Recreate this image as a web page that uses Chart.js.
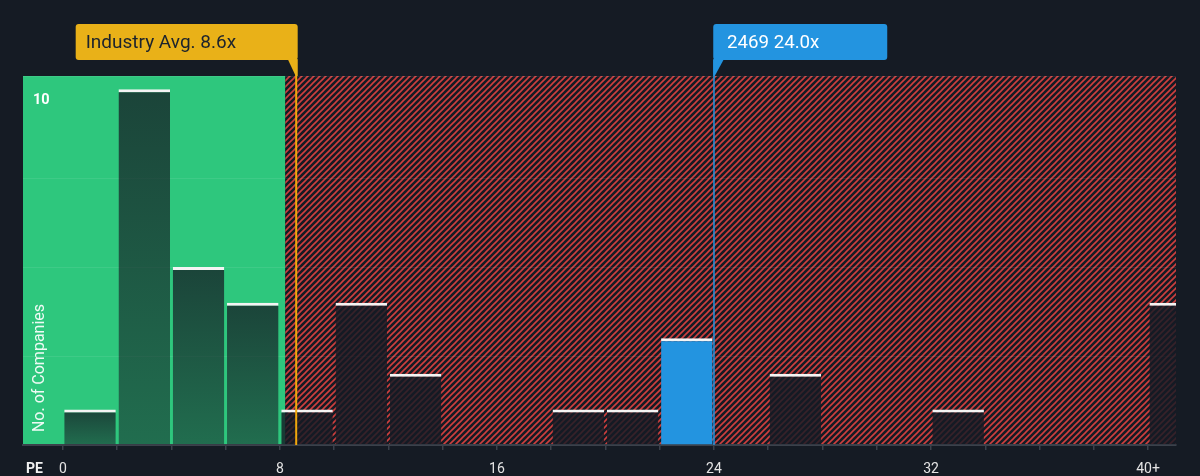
<!DOCTYPE html>
<html><head><meta charset="utf-8">
<script src="https://cdn.jsdelivr.net/npm/chart.js@4"></script>
<style>html,body{margin:0;padding:0;background:#151b24;overflow:hidden}</style>
</head><body>
<canvas id="c" width="1200" height="476"></canvas>
<script>
// ---- data ----
const binStarts = [0,2,4,6,8,10,12,14,16,18,20,22,24,26,28,30,32,34,36,38,40];
const counts    = [1,10,5,4,1,4,2,0,0,1,1,3,0,2,0,0,1,0,0,0,4];
const binWidth = 2;
const tickValues = [0,8,16,24,32,40];
const tickLabels = ['0','8','16','24','32','40+'];
const yLabelValues = [10];
const industryAvg = 8.6;
const companyPE = 24.0;
const companyName = '2469';
const fairLimit = 8.2;
const xMin = -1.47, xMax = 41.03, yMax = 10.37;

const BG = '#151b24';
const GREEN = '#2ec77d';
const RED = '#cf3f3e';
const BLUE = '#2394e0';
const GOLD = '#e9b118';

const points = binStarts.map((s,i)=>({x: s + binWidth/2, y: counts[i]}));

function makePattern(ctx){
  const s = 6;
  const pc = document.createElement('canvas');
  pc.width = s; pc.height = s;
  const p = pc.getContext('2d');
  p.fillStyle = BG; p.fillRect(0,0,s,s);
  p.strokeStyle = RED; p.lineWidth = 1.6;
  p.beginPath();
  p.moveTo(-1, s+1); p.lineTo(s+1, -1);
  p.moveTo(-1, 1); p.lineTo(1, -1);
  p.moveTo(s-1, s+1); p.lineTo(s+1, s-1);
  p.stroke();
  return ctx.createPattern(pc, 'repeat');
}

const bgPlugin = {
  id: 'bgRegions',
  beforeDraw(chart){
    const {ctx, chartArea: a, scales: {x}} = chart;
    ctx.save();
    ctx.fillStyle = BG;
    ctx.fillRect(0,0,chart.width,chart.height);
    const fx = x.getPixelForValue(fairLimit);
    ctx.fillStyle = GREEN;
    ctx.fillRect(a.left, a.top, fx - a.left, a.bottom - a.top);
    ctx.fillStyle = makePattern(ctx);
    ctx.fillRect(fx, a.top, a.right - fx, a.bottom - a.top);
    ctx.restore();
  }
};

function roundRect(ctx, x, y, w, h, r){
  ctx.beginPath();
  ctx.moveTo(x+r,y); ctx.lineTo(x+w-r,y); ctx.quadraticCurveTo(x+w,y,x+w,y+r);
  ctx.lineTo(x+w,y+h-r); ctx.quadraticCurveTo(x+w,y+h,x+w-r,y+h);
  ctx.lineTo(x+r,y+h); ctx.quadraticCurveTo(x,y+h,x,y+h-r);
  ctx.lineTo(x,y+r); ctx.quadraticCurveTo(x,y,x+r,y);
  ctx.closePath();
}

const annoPlugin = {
  id: 'anno',
  afterDatasetsDraw(chart){
    const {ctx, chartArea: a, scales: {x, y}} = chart;
    ctx.save();
    const boxTop = 24, boxBot = 60;
    // industry line
    const ix = x.getPixelForValue(industryAvg);
    ctx.fillStyle = GOLD;
    ctx.strokeStyle = '#f0a80c';
    ctx.lineWidth = 2;
    ctx.beginPath(); ctx.moveTo(ix, boxBot); ctx.lineTo(ix, a.bottom); ctx.stroke();
    ctx.font = '19px Roboto';
    const itxt = 'Industry Avg. ' + industryAvg.toFixed(1) + 'x';
    const ir = ix + 1.5;
    const iw = 222;
    roundRect(ctx, ir - iw, boxTop, iw, boxBot - boxTop, 3);
    ctx.fill();
    ctx.beginPath(); ctx.moveTo(ir - 10, boxBot - 1); ctx.lineTo(ir, boxBot - 1); ctx.lineTo(ir, a.top); ctx.lineTo(ix - 0.5, a.top); ctx.closePath(); ctx.fill();
    ctx.fillStyle = '#1c232d';
    ctx.textBaseline = 'middle';
    ctx.fillText(itxt, ir - iw + 10, (boxTop + boxBot)/2 + 1);

    // company line
    const cx = x.getPixelForValue(companyPE);
    ctx.strokeStyle = BLUE; ctx.fillStyle = BLUE; ctx.lineWidth = 1.5;
    ctx.beginPath(); ctx.moveTo(cx, boxBot); ctx.lineTo(cx, a.bottom); ctx.stroke();
    const ctxt = companyName + ' ' + companyPE.toFixed(1) + 'x';
    const cw = 174;
    roundRect(ctx, cx - 0.75, boxTop, cw, boxBot - boxTop, 3);
    ctx.fill();
    ctx.beginPath(); ctx.moveTo(cx - 0.75, boxBot - 1); ctx.lineTo(cx + 10, boxBot - 1); ctx.lineTo(cx + 0.75, a.top); ctx.lineTo(cx - 0.75, a.top); ctx.closePath(); ctx.fill();
    ctx.fillStyle = '#ffffff';
    ctx.font = '18.7px Roboto';
    ctx.fillText(ctxt, cx + 13, (boxTop + boxBot)/2 + 1);

    // y tick label(s)
    ctx.font = 'bold 14.5px Roboto';
    ctx.fillStyle = '#ffffff';
    ctx.textAlign = 'left';
    yLabelValues.forEach(v => ctx.fillText(String(v), a.left + 10, y.getPixelForValue(v) + 11));

    // axis titles
    ctx.font = '16px Roboto';
    ctx.fillStyle = 'rgba(255,255,255,0.92)';
    ctx.save();
    ctx.translate(40, 368);
    ctx.rotate(-Math.PI/2);
    ctx.textAlign = 'center';
    ctx.fillText('No. of Companies', 0, 0);
    ctx.restore();
    ctx.font = 'bold 14px Roboto';
    ctx.fillStyle = '#f0f0f0';
    ctx.textAlign = 'left';
    ctx.fillText('PE', 26, 469);
    ctx.restore();
  }
};

const ctx = document.getElementById('c').getContext('2d');
new Chart(ctx, {
  type: 'bar',
  data: {
    datasets: [{
      data: points,
      backgroundColor: (c) => {
        const p = c.raw; if (!p) return 'transparent';
        if (p.x - binWidth/2 < companyPE && p.x + binWidth/2 >= companyPE) return BLUE;
        const a = c.chart.chartArea;
        const ys = c.chart.scales.y;
        if (p.x + binWidth/2 <= fairLimit && a && ys) {
          const top = ys.getPixelForValue(p.y);
          const g = c.chart.ctx.createLinearGradient(0, top, 0, a.bottom);
          g.addColorStop(0, 'rgba(21,27,36,0.76)');
          g.addColorStop(1, 'rgba(21,27,36,0.52)');
          return g;
        }
        return 'rgba(21,27,36,0.82)';
      },
      borderColor: '#f4f4f4',
      borderWidth: (c) => (c.raw && c.raw.y > 0) ? {top: 3, left: 0, right: 0, bottom: 0} : 0,
      borderSkipped: 'bottom',
      barPercentage: 0.95,
      categoryPercentage: 1.0
    }]
  },
  options: {
    responsive: false,
    animation: false,
    devicePixelRatio: 1,
    layout: { padding: { top: 76, left: 23, right: 24, bottom: 0 } },
    plugins: { legend: {display: false}, tooltip: {enabled: false} },
    scales: {
      x: {
        type: 'linear', min: xMin, max: xMax, offset: false,
        afterFit: (s) => { s.height = 31; },
        ticks: {
          stepSize: 2, includeBounds: false, autoSkip: false, maxRotation: 0,
          color: '#e4e4e4', font: {family: 'Roboto', size: 14}, padding: 11,
          callback: (v) => { const i = tickValues.indexOf(v); return i >= 0 ? tickLabels[i] : ''; }
        },
        grid: { drawOnChartArea: false, drawTicks: true, tickLength: 5, color: '#3b414b', lineWidth: 1.5, offset: false },
        border: { display: true, color: '#3b414b', width: 2 }
      },
      y: {
        min: 0, max: yMax,
        afterFit: (s) => { s.width = 0; },
        ticks: { stepSize: 2.5, display: false },
        grid: { drawTicks: false, color: 'rgba(255,255,255,0.08)' },
        border: { display: false }
      }
    }
  },
  plugins: [bgPlugin, annoPlugin]
});
</script>
</body></html>
